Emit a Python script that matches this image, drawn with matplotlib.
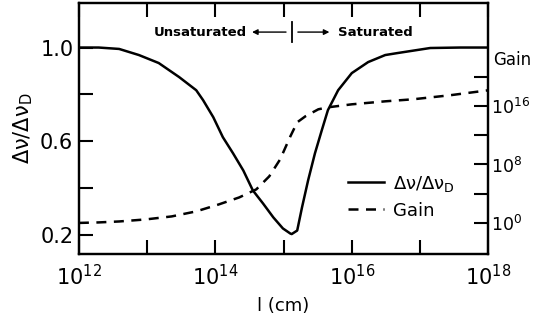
import numpy as np
import matplotlib
matplotlib.use('Agg')
import matplotlib.pyplot as plt
from matplotlib.ticker import FixedLocator, NullLocator

# linewidth ratio curve: log10(l) and dnu/dnu_D
ratio_logl = [12.0, 12.29, 12.59, 12.88, 13.17, 13.47, 13.72, 13.82, 13.97, 14.11,
              14.26, 14.41, 14.55, 14.70, 14.85, 14.99, 15.10, 15.12, 15.20, 15.27,
              15.36, 15.46, 15.56, 15.65, 15.80, 16.00, 16.24, 16.49, 16.66, 17.15,
              17.59, 18.0]
ratio_vals = [1.0, 1.0, 0.994, 0.968, 0.934, 0.874, 0.818, 0.776, 0.703, 0.618,
              0.549, 0.476, 0.391, 0.335, 0.276, 0.229, 0.207, 0.205, 0.220, 0.318,
              0.434, 0.549, 0.647, 0.733, 0.818, 0.891, 0.938, 0.968, 0.976, 0.998,
              1.0, 1.0]

# gain curve: log10(l) and log10(gain)
gain_logl = [12.0, 12.29, 12.59, 12.98, 13.36, 13.72, 14.05, 14.35, 14.60, 14.79,
             14.95, 15.10, 15.20, 15.32, 15.51, 15.65, 16.00, 16.49, 16.90, 17.44, 18.0]
gain_logg = [0.0, 0.07, 0.2, 0.48, 0.89, 1.58, 2.53, 3.49, 4.59, 6.37,
             8.7, 11.85, 13.77, 14.59, 15.55, 15.82, 16.23, 16.64, 16.92, 17.47, 18.15]

fig = plt.figure(figsize=(5.33, 3.29), dpi=100)
ax = fig.add_axes([0.148, 0.228, 0.768, 0.763])
ax2 = ax.twinx()

l1, = ax.plot(10 ** np.array(ratio_logl), ratio_vals, color='black', lw=1.8,
              solid_joinstyle='round', label='Δν/Δν$_\\mathrm{D}$')
l2, = ax2.plot(10 ** np.array(gain_logl), 10 ** np.array(gain_logg), color='black',
               lw=1.8, dashes=(4, 3), label='Gain')

ax.set_xscale('log')
ax.set_xlim(1e12, 1e18)
ax.set_ylim(0.12, 1.19)
ax2.set_yscale('log')
ax2.set_ylim(10 ** -4.25, 10 ** 30.1)

ax.xaxis.set_major_locator(FixedLocator([10.0 ** k for k in range(12, 19)]))
ax.xaxis.set_minor_locator(NullLocator())
ax.set_xticklabels(['$10^{%d}$' % k if k % 2 == 0 else '' for k in range(12, 19)])
ax.set_yticks([0.2, 0.4, 0.6, 0.8, 1.0])
ax.set_yticklabels(['0.2', '', '0.6', '', '1.0'])

ax2.yaxis.set_major_locator(FixedLocator([10.0 ** k for k in range(0, 24, 4)]))
ax2.yaxis.set_minor_locator(NullLocator())
ax2.set_yticklabels(['$10^{%d}$' % k if k % 8 == 0 and k <= 16 else '' for k in range(0, 24, 4)])

ax.tick_params(direction='in', length=10, width=1.5, labelsize=15, pad=4)
ax.tick_params(axis='x', pad=7, top=True)
ax2.tick_params(direction='in', length=10, width=1.5, labelsize=12.5, pad=2)
for a in (ax, ax2):
    for s in a.spines.values():
        s.set_linewidth(1.6)

ax.set_ylabel('Δν/Δν$_\\mathrm{D}$', fontsize=15, labelpad=4)
ax.set_xlabel('l (cm)', fontsize=13, labelpad=6)
fig.text(0.925, 0.818, 'Gain', fontsize=12, ha='left', va='center')

ax.text(0.41, 0.884, 'Unsaturated', transform=ax.transAxes, fontsize=9.5,
        fontweight='bold', ha='right', va='center')
ax.text(0.633, 0.884, 'Saturated', transform=ax.transAxes, fontsize=9.5,
        fontweight='bold', ha='left', va='center')
ax.annotate('', xy=(0.423, 0.884), xytext=(0.506, 0.884), xycoords='axes fraction',
            arrowprops=dict(arrowstyle='-|>', color='black', lw=1, mutation_scale=8,
                            shrinkA=0, shrinkB=0))
ax.annotate('', xy=(0.612, 0.884), xytext=(0.535, 0.884), xycoords='axes fraction',
            arrowprops=dict(arrowstyle='-|>', color='black', lw=1, mutation_scale=8,
                            shrinkA=0, shrinkB=0))
ax.plot([0.521, 0.521], [0.845, 0.924], transform=ax.transAxes, color='black', lw=1.3)

ax.legend(handles=[l1, l2], loc='upper left', bbox_to_anchor=(0.658, 0.32),
          frameon=False, fontsize=13, handlelength=2.0, labelspacing=0.45,
          handletextpad=0.5, borderpad=0, borderaxespad=0)

fig.savefig('out.png', dpi=100)
